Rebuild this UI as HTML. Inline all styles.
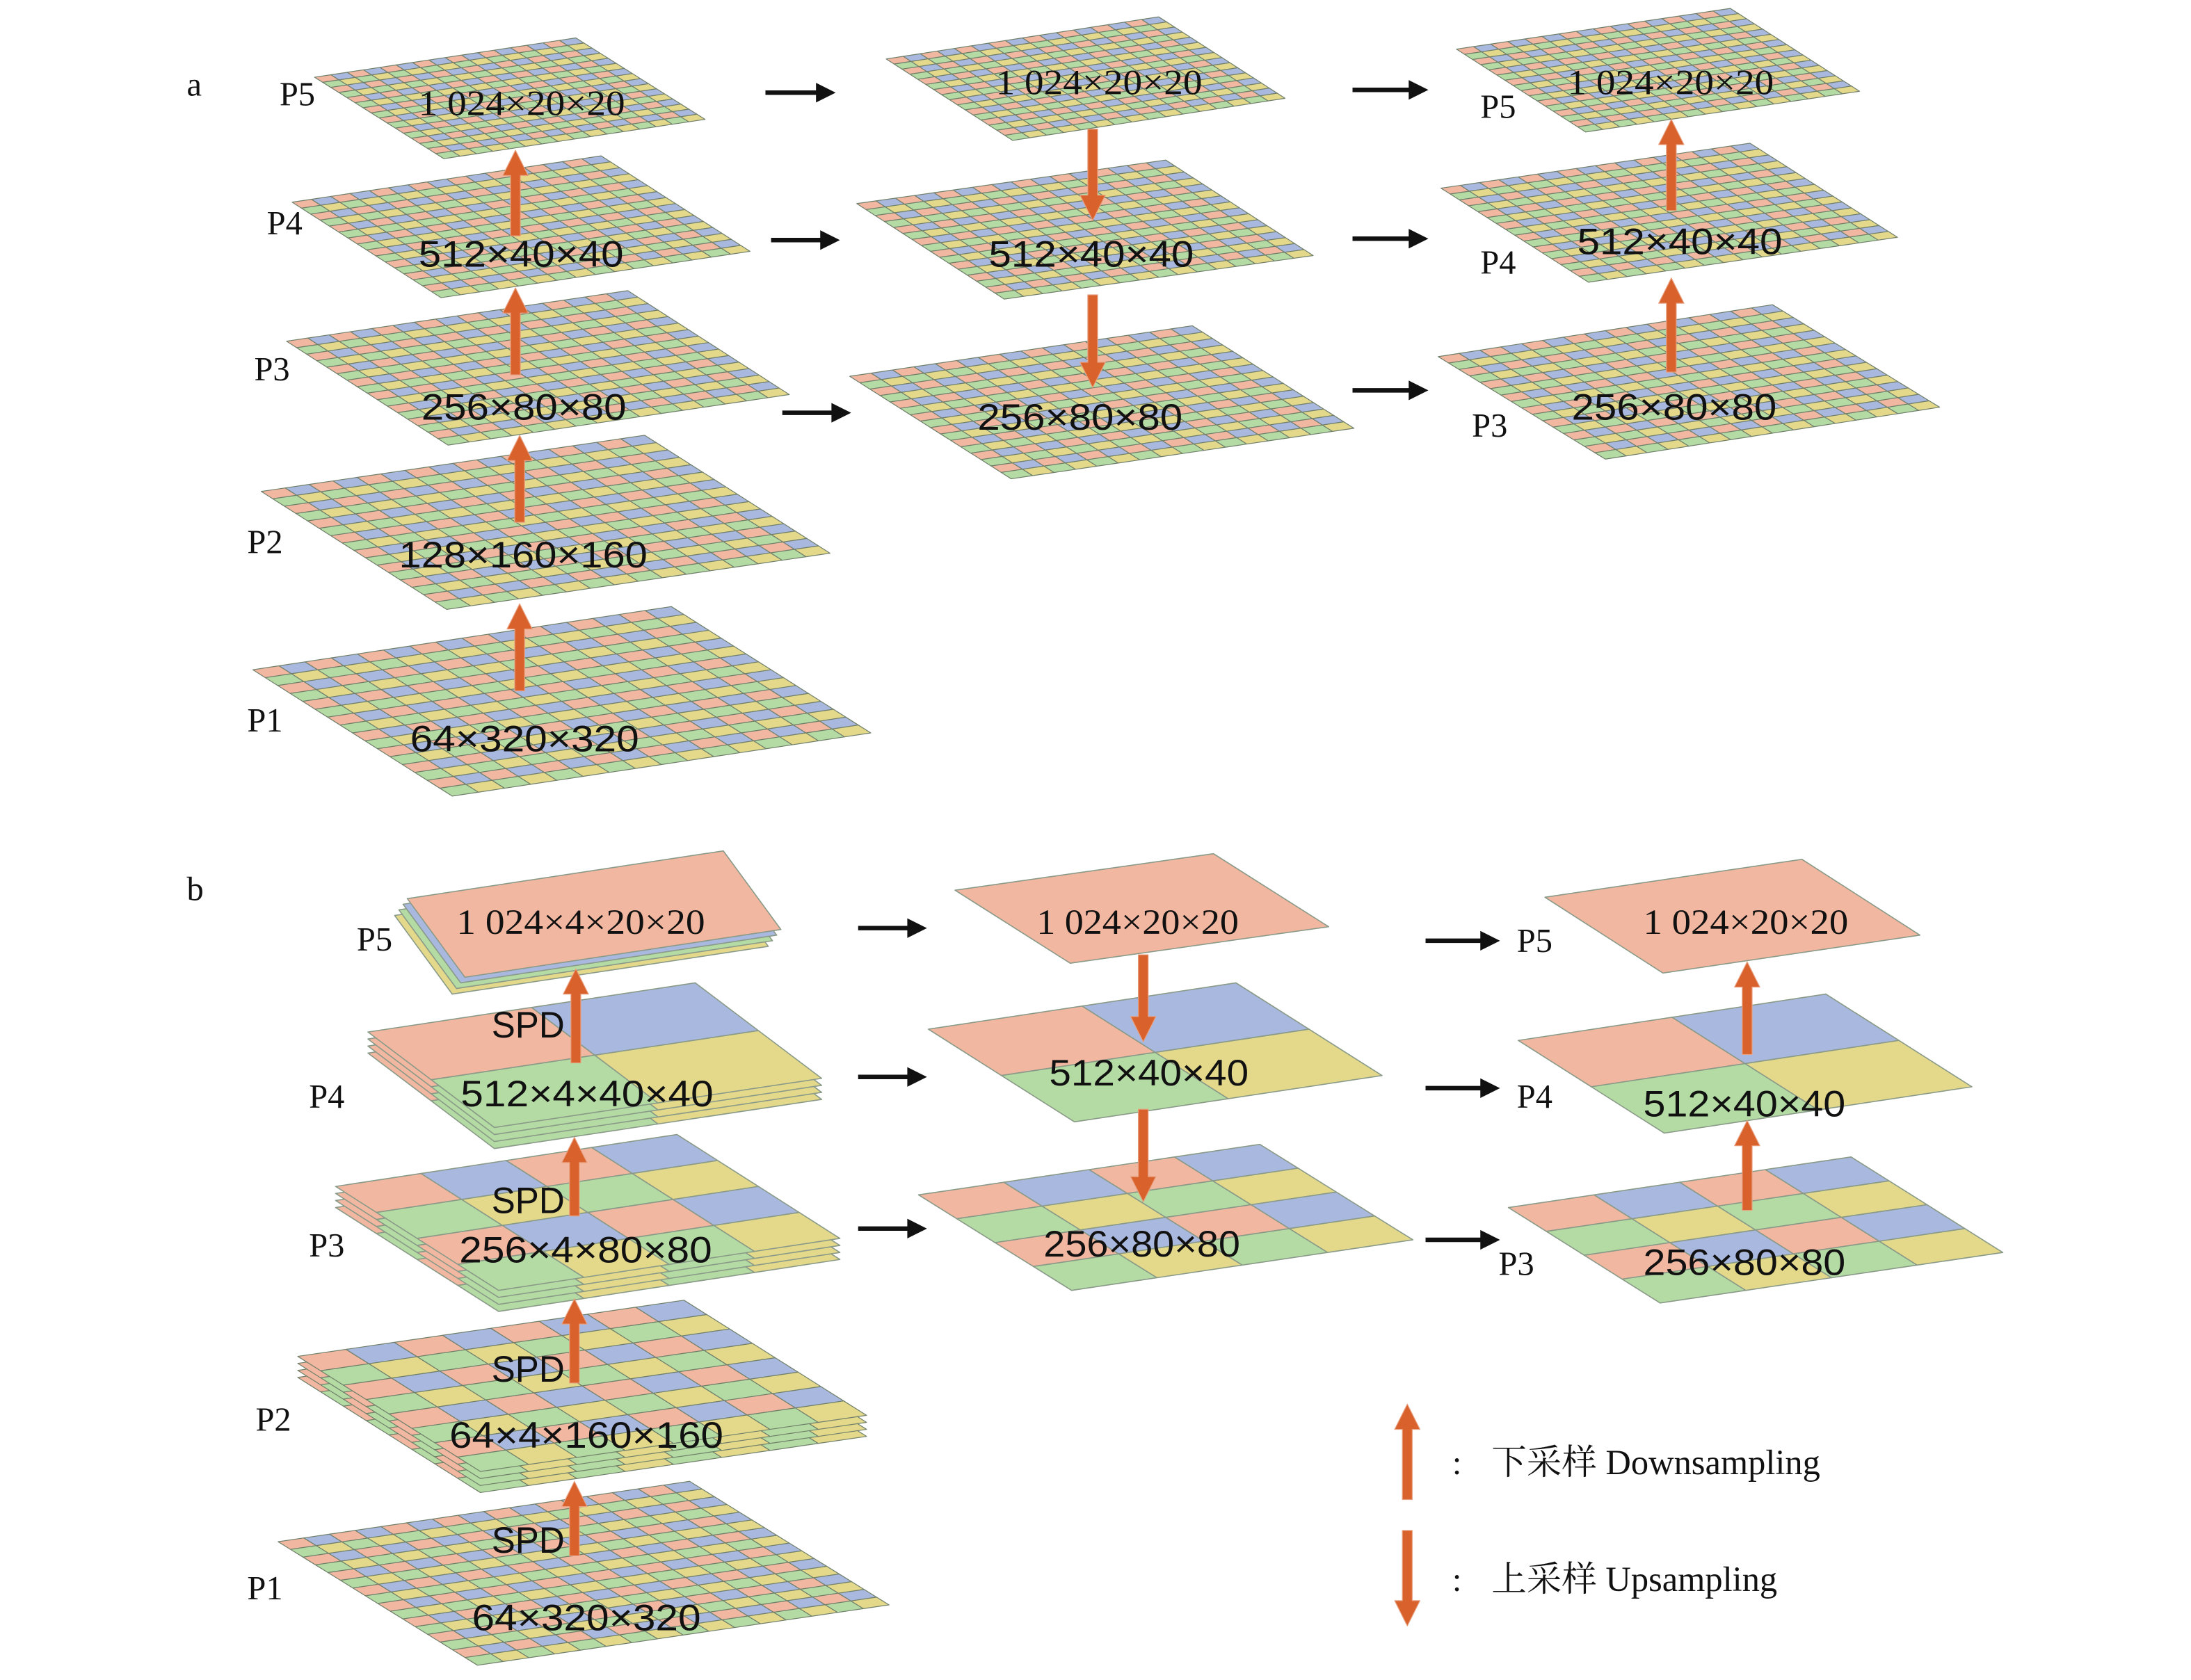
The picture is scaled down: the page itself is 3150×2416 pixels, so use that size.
<!DOCTYPE html>
<html><head><meta charset="utf-8">
<style>
html,body{margin:0;padding:0;background:#fff;}
svg{display:block;}
.s{font-family:"Liberation Sans","DejaVu Sans",sans-serif;fill:#111;}
.r{font-family:"Liberation Serif","Noto Serif CJK SC",serif;fill:#111;}
</style></head>
<body>
<svg id="svg" width="3150" height="2416" viewBox="0 0 1560 1196.5" preserveAspectRatio="none" xmlns="http://www.w3.org/2000/svg">
<rect width="1560" height="1197" fill="#fff"/>
<g id="planes"></g>
<g id="arrows"></g>
<g id="labels">
<text class="r" x="133" y="68" font-size="24">a</text>
<text class="r" x="133" y="641" font-size="24">b</text>
<!-- part a col1 -->
<text class="r" x="199" y="75" font-size="24">P5</text>
<text class="r" x="190" y="167" font-size="24">P4</text>
<text class="r" x="181" y="271" font-size="24">P3</text>
<text class="r" x="176" y="394" font-size="24">P2</text>
<text class="r" x="176" y="521" font-size="24">P1</text>
<text class="r" x="298" y="82" font-size="25" textLength="147" lengthAdjust="spacingAndGlyphs">1 024×20×20</text>
<text class="s" x="298" y="190" font-size="26" textLength="146" lengthAdjust="spacingAndGlyphs">512×40×40</text>
<text class="s" x="300" y="299" font-size="26" textLength="146" lengthAdjust="spacingAndGlyphs">256×80×80</text>
<text class="s" x="284" y="404" font-size="26" textLength="177" lengthAdjust="spacingAndGlyphs">128×160×160</text>
<text class="s" x="292" y="535" font-size="26" textLength="163" lengthAdjust="spacingAndGlyphs">64×320×320</text>
<!-- part a col2 -->
<text class="r" x="709" y="67" font-size="25" textLength="147" lengthAdjust="spacingAndGlyphs">1 024×20×20</text>
<text class="s" x="704" y="190" font-size="26" textLength="146" lengthAdjust="spacingAndGlyphs">512×40×40</text>
<text class="s" x="696" y="306" font-size="26" textLength="146" lengthAdjust="spacingAndGlyphs">256×80×80</text>
<!-- part a col3 -->
<text class="r" x="1054" y="84" font-size="24">P5</text>
<text class="r" x="1054" y="195" font-size="24">P4</text>
<text class="r" x="1048" y="311" font-size="24">P3</text>
<text class="r" x="1116" y="67" font-size="25" textLength="147" lengthAdjust="spacingAndGlyphs">1 024×20×20</text>
<text class="s" x="1123" y="181" font-size="26" textLength="146" lengthAdjust="spacingAndGlyphs">512×40×40</text>
<text class="s" x="1119" y="299" font-size="26" textLength="146" lengthAdjust="spacingAndGlyphs">256×80×80</text>
<!-- part b col1 -->
<text class="r" x="254" y="677" font-size="24">P5</text>
<text class="r" x="220" y="789" font-size="24">P4</text>
<text class="r" x="220" y="895" font-size="24">P3</text>
<text class="r" x="182" y="1019" font-size="24">P2</text>
<text class="r" x="176" y="1139" font-size="24">P1</text>
<text class="r" x="325" y="665" font-size="25" textLength="177" lengthAdjust="spacingAndGlyphs">1 024×4×20×20</text>
<text class="s" x="350" y="739" font-size="26" textLength="52" lengthAdjust="spacingAndGlyphs">SPD</text>
<text class="s" x="350" y="864" font-size="26" textLength="52" lengthAdjust="spacingAndGlyphs">SPD</text>
<text class="s" x="350" y="984" font-size="26" textLength="52" lengthAdjust="spacingAndGlyphs">SPD</text>
<text class="s" x="350" y="1106" font-size="26" textLength="52" lengthAdjust="spacingAndGlyphs">SPD</text>
<text class="s" x="328" y="788" font-size="26" textLength="180" lengthAdjust="spacingAndGlyphs">512×4×40×40</text>
<text class="s" x="327" y="899" font-size="26" textLength="180" lengthAdjust="spacingAndGlyphs">256×4×80×80</text>
<text class="s" x="320" y="1031" font-size="26" textLength="195" lengthAdjust="spacingAndGlyphs">64×4×160×160</text>
<text class="s" x="336" y="1161" font-size="26" textLength="163" lengthAdjust="spacingAndGlyphs">64×320×320</text>
<!-- part b col2 -->
<text class="r" x="738" y="665" font-size="25" textLength="144" lengthAdjust="spacingAndGlyphs">1 024×20×20</text>
<text class="s" x="747" y="773" font-size="26" textLength="142" lengthAdjust="spacingAndGlyphs">512×40×40</text>
<text class="s" x="743" y="895" font-size="26" textLength="140" lengthAdjust="spacingAndGlyphs">256×80×80</text>
<!-- part b col3 -->
<text class="r" x="1080" y="678" font-size="24">P5</text>
<text class="r" x="1080" y="789" font-size="24">P4</text>
<text class="r" x="1067" y="908" font-size="24">P3</text>
<text class="r" x="1170" y="665" font-size="25" textLength="146" lengthAdjust="spacingAndGlyphs">1 024×20×20</text>
<text class="s" x="1170" y="795" font-size="26" textLength="144" lengthAdjust="spacingAndGlyphs">512×40×40</text>
<text class="s" x="1170" y="908" font-size="26" textLength="144" lengthAdjust="spacingAndGlyphs">256×80×80</text>
<!-- legend -->
<text class="r" x="1034" y="1050" font-size="24">:</text>
<text class="r" x="1034" y="1133" font-size="24">:</text>
<text class="r" x="1062" y="1050" font-size="25">下采样 Downsampling</text>
<text class="r" x="1062" y="1133" font-size="25">上采样 Upsampling</text>
</g>
</svg>
<script>
var NS="http://www.w3.org/2000/svg";
var P="#f2b7a0",B="#a9b8df",G="#b4dba3",Y="#e4d98a";
var gp=document.getElementById("planes"),ga=document.getElementById("arrows");
function poly(g,pts,fill,stroke,sw){var e=document.createElementNS(NS,"polygon");
 e.setAttribute("points",pts.map(function(p){return p[0].toFixed(2)+","+p[1].toFixed(2)}).join(" "));
 e.setAttribute("fill",fill);if(stroke){e.setAttribute("stroke",stroke);e.setAttribute("stroke-width",sw);e.setAttribute("stroke-linejoin","round");}
 g.appendChild(e);}
function colFine(i,j){return [[P,B],[G,Y]][j%2][i%2];}
function plane(L,T,R,n,cf,dx,dy){dx=dx||0;dy=dy||0;
 var Bc=[L[0]+R[0]-T[0],L[1]+R[1]-T[1]];
 var u=[(T[0]-L[0])/n,(T[1]-L[1])/n],v=[(Bc[0]-L[0])/n,(Bc[1]-L[1])/n];
 var g=document.createElementNS(NS,"g");gp.appendChild(g);
 for(var i=0;i<n;i++)for(var j=0;j<n;j++){
  var o=[L[0]+dx+i*u[0]+j*v[0],L[1]+dy+i*u[1]+j*v[1]];
  poly(g,[o,[o[0]+u[0],o[1]+u[1]],[o[0]+u[0]+v[0],o[1]+u[1]+v[1]],[o[0]+v[0],o[1]+v[1]]],cf(i,j),n>4?"#6f7f6a":"#8a9a88",n>4?0.6:0.8);
 }}
function solid(L,T,R,fill,dx,dy){var Bc=[L[0]+R[0]-T[0],L[1]+R[1]-T[1]];
 poly(gp,[[L[0]+dx,L[1]+dy],[T[0]+dx,T[1]+dy],[R[0]+dx,R[1]+dy],[Bc[0]+dx,Bc[1]+dy]],fill,"#8a9a88",0.8);}
function stack(L,T,R,n,cf,k,dx,dy){for(var s=k;s>=1;s--)plane(L,T,R,n,cf,dx*s,dy*s);plane(L,T,R,n,cf);}
var F=16;
plane([224,55],[410,27],[502,85],F,colFine);
plane([208,144],[428,111],[534,179],F,colFine);
plane([204,243],[447,207],[562,281],F,colFine);
plane([186,350],[459,310],[591,394],F,colFine);
plane([180,477],[478,432],[620,522],F,colFine);
plane([631,42],[825,12],[915,70],F,colFine);
plane([610,145],[830,114],[935,182],F,colFine);
plane([605,268],[849,232],[964,305],F,colFine);
plane([1037,35],[1232,6],[1324,65],F,colFine);
plane([1026,134],[1246,102],[1351,169],F,colFine);
plane([1024,254],[1262,217],[1381,290],F,colFine);
// part b col1
solid([290,640],[515,606],[556,662],Y,-9,12);
solid([290,640],[515,606],[556,662],G,-6,8);
solid([290,640],[515,606],[556,662],B,-3,4);
solid([290,640],[515,606],[556,662],P,0,0);
stack([262,735],[495,700],[585,768],2,colFine,3,0,5);
stack([239,845],[482,808],[598,882],4,colFine,3,0,5);
stack([212,966],[487,926],[617,1008],8,colFine,3,0,5);
plane([198,1098],[491,1055],[633,1143],F,colFine);
// part b col2
solid([680,634],[864,608],[946,660],P,0,0);
plane([661,733],[880,700],[984,766],2,colFine);
plane([654,851],[897,815],[1006,883],4,colFine);
// part b col3
solid([1100,639],[1283,612],[1367,666],P,0,0);
plane([1081,741],[1300,708],[1404,774],2,colFine);
plane([1074,860],[1318,824],[1426,892],4,colFine);
function oarrow(x,y1,y2){
 var d=y2>y1?1:-1,hl=18,hw=9,sw=3.5;var yb=y2-d*hl;
 poly(ga,[[x-sw,y1],[x+sw,y1],[x+sw,yb],[x+hw,yb],[x,y2],[x-hw,yb],[x-sw,yb]],"#d8612c","#e8a080",0.6);}
oarrow(367,168,107);oarrow(367,267,205);oarrow(370,372,310);oarrow(370,492,430);
oarrow(778,92,157);oarrow(778,210,276);
oarrow(1190,150,85);oarrow(1190,265,198);
oarrow(410,757,690);oarrow(409,866,810);oarrow(409,985,925);oarrow(409,1108,1055);
oarrow(814,680,742);oarrow(814,790,856);
oarrow(1244,751,685);oarrow(1244,862,798);
oarrow(1002,1068,1000);oarrow(1002,1090,1158);
function barrow(x1,x2,y){var hl=14,hw=7;
 poly(ga,[[x1,y-1.6],[x2-hl,y-1.6],[x2-hl,y-hw],[x2,y],[x2-hl,y+hw],[x2-hl,y+1.6],[x1,y+1.6]],"#111");}
barrow(545,595,66);barrow(549,598,171);barrow(557,606,294);
barrow(963,1017,64);barrow(963,1017,170);barrow(963,1017,278);
barrow(611,660,661);barrow(611,660,767);barrow(611,660,875);
barrow(1015,1068,670);barrow(1015,1068,775);barrow(1015,1068,883);
</script>
</body></html>
